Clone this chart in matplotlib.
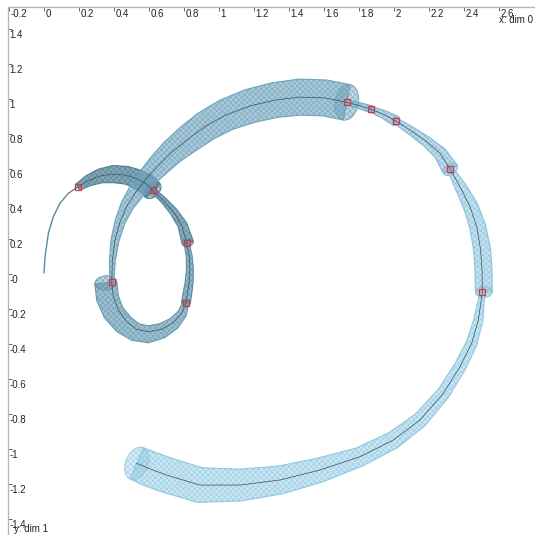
import numpy as np
import matplotlib
matplotlib.use("Agg")
import matplotlib.pyplot as plt
from matplotlib.patches import Polygon, Ellipse
from matplotlib.colors import LinearSegmentedColormap

# ---- data (data units) ----
seg_x = [
    [0.000, 0.006, 0.025, 0.053, 0.091, 0.139, 0.193],
    [0.193, 0.253, 0.320, 0.396, 0.473, 0.539, 0.587, 0.621],
    [0.621, 0.682, 0.739, 0.787, 0.815],
    [0.815, 0.830, 0.834, 0.829, 0.811],
    [0.811, 0.787, 0.739, 0.672, 0.596, 0.530, 0.473, 0.425, 0.396, 0.387],
    [0.387, 0.391, 0.406, 0.434, 0.474, 0.526, 0.583, 0.651, 0.731, 0.823,
     0.926, 1.040, 1.177, 1.320, 1.463, 1.606, 1.730],
    [1.730, 1.800, 1.870],
    [1.870, 1.943, 2.011],
    [2.011, 2.091, 2.187, 2.263, 2.322],
    [2.322, 2.377, 2.434, 2.473, 2.495, 2.503, 2.505],
    [2.505, 2.482, 2.444, 2.377, 2.282, 2.149, 1.996, 1.806, 1.577, 1.349,
     1.120, 0.891, 0.701, 0.606, 0.530],
]
seg_y = [
    [0.006, 0.099, 0.233, 0.327, 0.404, 0.461, 0.497],
    [0.497, 0.533, 0.560, 0.571, 0.564, 0.541, 0.513, 0.478],
    [0.478, 0.423, 0.356, 0.280, 0.177],
    [0.177, 0.099, 0.023, -0.053, -0.164],
    [-0.164, -0.225, -0.278, -0.316, -0.330, -0.316, -0.273, -0.206, -0.130, -0.047],
    [-0.047, 0.080, 0.194, 0.297, 0.389, 0.469, 0.543, 0.617, 0.697, 0.771,
     0.846, 0.909, 0.960, 0.994, 1.011, 1.006, 0.981],
    [0.981, 0.963, 0.941],
    [0.941, 0.911, 0.874],
    [0.874, 0.823, 0.756, 0.690, 0.598],
    [0.598, 0.499, 0.385, 0.270, 0.137, 0.023, -0.103],
    [-0.103, -0.263, -0.396, -0.530, -0.682, -0.834, -0.949, -1.044, -1.120, -1.177,
     -1.206, -1.206, -1.149, -1.114, -1.082],
]
# spread of the tube on the left / right side of the direction of travel
seg_wl = [
    [0.003, 0.003, 0.003, 0.003, 0.003, 0.003, 0.003],
    [0.020, 0.031, 0.040, 0.049, 0.051, 0.054, 0.057, 0.057],
    [0.014, 0.017, 0.023, 0.031, 0.040],
    [0.014, 0.017, 0.020, 0.023, 0.026],
    [0.017, 0.029, 0.040, 0.051, 0.063, 0.069, 0.080, 0.091, 0.097, 0.097],
    [0.011, 0.017, 0.023, 0.029, 0.037, 0.046, 0.054, 0.063, 0.071, 0.080,
     0.086, 0.091, 0.097, 0.100, 0.103, 0.103, 0.103],
    [0.014, 0.017, 0.020],
    [0.017, 0.023, 0.029],
    [0.017, 0.023, 0.029, 0.037, 0.046],
    [0.017, 0.034, 0.046, 0.051, 0.057, 0.057, 0.057],
    [0.014, 0.026, 0.031, 0.034, 0.037, 0.043, 0.049, 0.054, 0.069, 0.080,
     0.091, 0.100, 0.100, 0.100, 0.097],
]
seg_wr = [
    [0.003, 0.003, 0.003, 0.003, 0.003, 0.003, 0.003],
    [0.020, 0.031, 0.040, 0.049, 0.051, 0.054, 0.057, 0.057],
    [0.014, 0.017, 0.020, 0.023, 0.026],
    [0.014, 0.017, 0.020, 0.023, 0.026],
    [0.017, 0.023, 0.029, 0.034, 0.034, 0.034, 0.034, 0.029, 0.029, 0.029],
    [0.011, 0.017, 0.023, 0.029, 0.037, 0.046, 0.054, 0.063, 0.071, 0.080,
     0.086, 0.091, 0.097, 0.100, 0.103, 0.103, 0.103],
    [0.014, 0.017, 0.020],
    [0.017, 0.023, 0.029],
    [0.017, 0.023, 0.029, 0.037, 0.046],
    [0.017, 0.029, 0.037, 0.040, 0.040, 0.040, 0.040],
    [0.014, 0.026, 0.031, 0.034, 0.037, 0.043, 0.049, 0.054, 0.069, 0.080,
     0.091, 0.100, 0.100, 0.100, 0.097],
]
obs_x = [0.193, 0.621, 0.815, 0.811, 0.387, 1.730, 1.870, 2.011, 2.322, 2.505]
obs_y = [0.497, 0.478, 0.177, -0.164, -0.047, 0.981, 0.941, 0.874, 0.598, -0.103]

xticks = [-0.2, 0, 0.2, 0.4, 0.6, 0.8, 1, 1.2, 1.4, 1.6, 1.8, 2, 2.2, 2.4, 2.6]
xtick_labels = ["-0.2", "0", "0.2", "0.4", "0.6", "0.8", "1", "1.2", "1.4",
                "1.6", "1.8", "2", "2.2", "2.4", "2.6"]
yticks = [1.4, 1.2, 1, 0.8, 0.6, 0.4, 0.2, 0, -0.2, -0.4, -0.6, -0.8, -1, -1.2, -1.4]
ytick_labels = ["1.4", "1.2", "1", "0.8", "0.6", "0.4", "0.2", "-0", "-0.2",
                "-0.4", "-0.6", "-0.8", "-1", "-1.2", "-1.4"]
x_title = "x: dim 0"
y_title = "y: dim 1"

# ---- figure ----
plt.rcParams["font.family"] = ["Liberation Sans", "DejaVu Sans"]
plt.rcParams["hatch.linewidth"] = 0.35
W = H = 535
fig = plt.figure(figsize=(W / 100, H / 100), dpi=100)
ax = fig.add_axes([8 / W, 0, (W - 8) / W, (H - 7) / H])
ax.set_xlim(-0.2057, 2.8057)
ax.set_ylim(-1.4914, 1.5257)

cmap = LinearSegmentedColormap.from_list("tube", ["#44778c", "#5f93ab", "#7cb3cd", "#8ec8e3"])
nseg = len(seg_x)

for i in range(nseg):
    P = np.column_stack([seg_x[i], seg_y[i]]).astype(float)
    wl = np.asarray(seg_wl[i], float)
    wr = np.asarray(seg_wr[i], float)
    c = cmap(i / (nseg - 1))
    d = np.gradient(P, axis=0)
    d /= np.linalg.norm(d, axis=1)[:, None]
    n = np.column_stack([-d[:, 1], d[:, 0]])
    L = P + n * wl[:, None]
    R = P - n * wr[:, None]
    poly = np.vstack([L, R[::-1]])
    if i == 0:
        ax.plot(P[:, 0], P[:, 1], color="#5a8aa0", lw=1.0, solid_capstyle="round", zorder=2)
        continue
    fa = 0.72 - 0.25 * i / (nseg - 1)
    # tube body
    ax.add_patch(Polygon(poly, closed=True, facecolor=(*c[:3], fa),
                         edgecolor=(*c[:3], 1.0), linewidth=0, hatch="xxxxxx",
                         zorder=2 + i * 0.01))
    ax.add_patch(Polygon(poly, closed=True, facecolor="none",
                         edgecolor=(*c[:3], 1.0), linewidth=0.8, zorder=2 + i * 0.01))
    # end cap (cross-section at the last point)
    hw = (wl[-1] + wr[-1]) / 2
    cc = P[-1] + n[-1] * (wl[-1] - wr[-1]) / 2
    ang = np.degrees(np.arctan2(n[-1, 1], n[-1, 0]))
    ax.add_patch(Ellipse(cc, 2 * hw, 1.3 * hw, angle=ang,
                         facecolor=(*c[:3], fa * 0.7), edgecolor=(*c[:3], 1.0),
                         linewidth=0.6, hatch="xxxxxx", zorder=2 + i * 0.01))
    # mean path
    ax.plot(P[:, 0], P[:, 1], color="#3d5966", lw=0.55, zorder=3)

ax.plot(obs_x, obs_y, linestyle="none", marker="s", markersize=4.2,
        markerfacecolor="none", markeredgecolor="#e0323a", markeredgewidth=0.9,
        zorder=5)

# ---- axes styling ----
for s in ["right", "bottom"]:
    ax.spines[s].set_visible(False)
for s in ["top", "left"]:
    ax.spines[s].set_color("#b5b5b5")
    ax.spines[s].set_linewidth(0.9)
ax.xaxis.tick_top()
ax.set_xticks(xticks)
ax.set_yticks(yticks)
ax.tick_params(axis="both", direction="in", length=3, width=0.7, color="#666666",
               labeltop=False, labelleft=False, labelbottom=False)

for v, t in zip(xticks, xtick_labels):
    ax.annotate(t, xy=(v, 1), xycoords=("data", "axes fraction"),
                xytext=(1.3, -1.4), textcoords="offset points",
                ha="left", va="top", fontsize=7, color="#222222")
for v, t in zip(yticks, ytick_labels):
    ax.annotate(t, xy=(0, v), xycoords=("axes fraction", "data"),
                xytext=(1.0, -0.6), textcoords="offset points",
                ha="left", va="top", fontsize=7, color="#222222")

ax.annotate(x_title, xy=(1, 1), xycoords="axes fraction", xytext=(-1.5, -5.5),
            textcoords="offset points", ha="right", va="top", fontsize=7,
            color="#222222")
ax.annotate(y_title, xy=(0, 0), xycoords="axes fraction", xytext=(4.5, 0.6),
            textcoords="offset points", ha="left", va="bottom", fontsize=7,
            color="#222222")

fig.savefig("out.png", dpi=100)
